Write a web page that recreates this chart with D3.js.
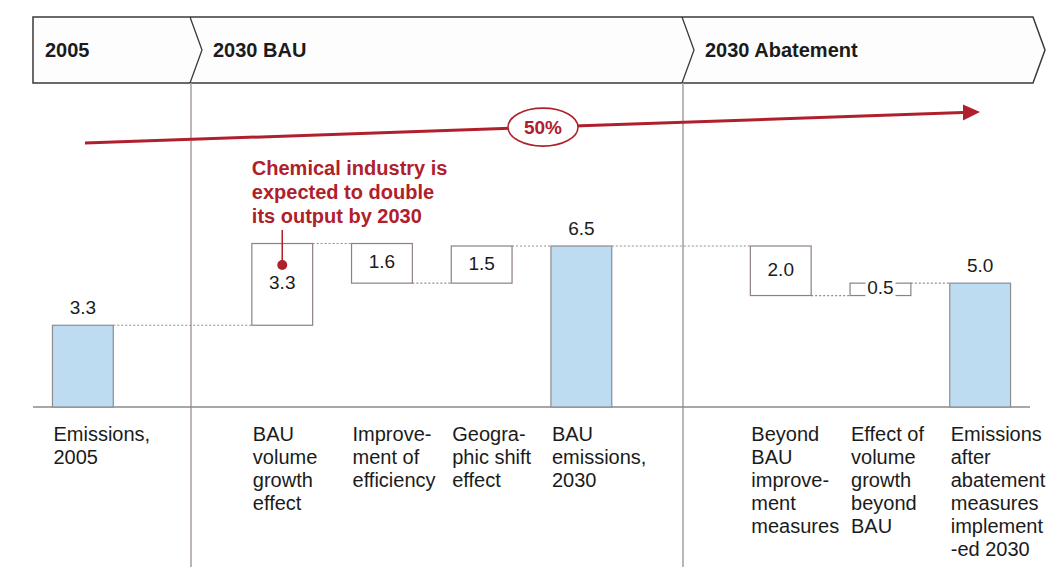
<!DOCTYPE html>
<html>
<head>
<meta charset="utf-8">
<script src="https://cdn.jsdelivr.net/npm/d3@7"></script>
<style>
  html, body { margin: 0; padding: 0; background: #ffffff; }
  svg { display: block; font-family: "Liberation Sans", Arial, Helvetica, sans-serif; }
</style>
</head>
<body>
<svg id="chart" width="1049" height="567"></svg>
<script>
// ---------------- DATA ----------------
const stepKeys = ["e2005", "gap1", "volume", "efficiency", "geo", "bau2030", "gap2", "beyond", "volBeyond", "e2030"];
const stepTypes = ["total", "gap", "delta", "delta", "delta", "total", "gap", "delta", "delta", "total"];
const stepValues = [3.3, null, 3.3, -1.6, 1.5, 6.5, null, -2.0, 0.5, 5.0];
const valueLabels = ["3.3", "", "3.3", "1.6", "1.5", "6.5", "", "2.0", "0.5", "5.0"];
const stepLabels = [
  ["Emissions,", "2005"],
  [],
  ["BAU", "volume", "growth", "effect"],
  ["Improve-", "ment of", "efficiency"],
  ["Geogra-", "phic shift", "effect"],
  ["BAU", "emissions,", "2030"],
  [],
  ["Beyond", "BAU", "improve-", "ment", "measures"],
  ["Effect of", "volume", "growth", "beyond", "BAU"],
  ["Emissions", "after", "abatement", "measures", "implement", "-ed 2030"]
];
const phaseLabels = ["2005", "2030 BAU", "2030 Abatement"];
const growthLabel = "50%";
const annotationLines = ["Chemical industry is", "expected to double", "its output by 2030"];
const annotatedStep = "volume";

// ---------------- LAYOUT ----------------
const W = 1049, H = 567;
const red = "#b0202c";
const ink = "#1b1b1b";
const svg = d3.select("#chart");

const x = d3.scaleBand().domain(stepKeys).range([33, 1030]).paddingInner(0.39).paddingOuter(0.195);
const y = d3.scaleLinear().domain([0, 6.5]).range([407, 246]);

// header chevron band
const hTop = 17, hBot = 83, hMid = (hTop + hBot) / 2;
const phaseEdges = [33, 190, 682, 1033]; // left edge and chevron positions (layout)
const tip = 12;
const header = svg.append("g");
// outline path
let p = `M${phaseEdges[0]},${hTop} L${phaseEdges[3]},${hTop} L${phaseEdges[3] + tip},${hMid} L${phaseEdges[3]},${hBot} L${phaseEdges[0]},${hBot} Z`;
header.append("path").attr("d", p).attr("fill", "#fdfdfd").attr("stroke", "#3a3a3a").attr("stroke-width", 1.5);
[phaseEdges[1], phaseEdges[2]].forEach(e => {
  header.append("path")
    .attr("d", `M${e},${hTop} L${e + tip},${hMid} L${e},${hBot}`)
    .attr("fill", "none").attr("stroke", "#3a3a3a").attr("stroke-width", 1.3);
});
phaseLabels.forEach((t, i) => {
  header.append("text")
    .attr("x", phaseEdges[i] + (i === 0 ? 12 : 23))
    .attr("y", hMid + 7)
    .attr("font-size", 20).attr("font-weight", "bold").attr("fill", ink)
    .text(t);
});

// vertical dividers
[phaseEdges[1] + 1, phaseEdges[2] + 1].forEach(e => {
  svg.append("line").attr("x1", e).attr("x2", e).attr("y1", hBot).attr("y2", H)
    .attr("stroke", "#a99c9c").attr("stroke-width", 1.5);
});

// baseline
svg.append("line").attr("x1", 33).attr("x2", 1030).attr("y1", y(0)).attr("y2", y(0))
  .attr("stroke", "#8a8a8a").attr("stroke-width", 1.3);

// compute waterfall geometry
let running = 0;
const steps = [];
stepKeys.forEach((k, i) => {
  const t = stepTypes[i];
  if (t === "gap") return;
  const v = stepValues[i];
  let start, end;
  if (t === "total") { start = 0; end = v; running = v; }
  else { start = running; end = running + v; running = end; }
  steps.push({ key: k, type: t, start, end, label: valueLabels[i], idx: i });
});

// connectors
for (let i = 0; i < steps.length - 1; i++) {
  const a = steps[i], b = steps[i + 1];
  const lvl = y(a.end);
  svg.append("line")
    .attr("x1", x(a.key) + x.bandwidth()).attr("x2", x(b.key))
    .attr("y1", lvl).attr("y2", lvl)
    .attr("stroke", "#8f8f8f").attr("stroke-width", 1.2).attr("stroke-dasharray", "2,2");
}

// bars and boxes
steps.forEach(s => {
  const top = y(Math.max(s.start, s.end)), bot = y(Math.min(s.start, s.end));
  svg.append("rect")
    .attr("x", x(s.key)).attr("y", top)
    .attr("width", x.bandwidth()).attr("height", bot - top)
    .attr("fill", s.type === "total" ? "#bddcf2" : "#ffffff")
    .attr("stroke", s.type === "total" ? "#8d8d8d" : "#8f8080")
    .attr("stroke-width", 1.2);
});

// value labels
steps.forEach(s => {
  const cx = x(s.key) + x.bandwidth() / 2;
  if (s.type === "total") {
    svg.append("text").attr("x", cx).attr("y", y(s.end) - 11)
      .attr("text-anchor", "middle").attr("font-size", 19).attr("fill", ink).text(s.label);
  } else {
    const top = y(Math.max(s.start, s.end)), bot = y(Math.min(s.start, s.end));
    const cy = (top + bot) / 2 - 2;
    const small = (bot - top) < 24;
    if (small) {
      svg.append("rect").attr("x", cx - 15).attr("y", cy - 10).attr("width", 30).attr("height", 21).attr("fill", "#ffffff");
    }
    svg.append("text").attr("x", cx).attr("y", cy + 7)
      .attr("text-anchor", "middle").attr("font-size", 19).attr("fill", ink).text(s.label);
  }
});

// category labels
stepKeys.forEach((k, i) => {
  const lines = stepLabels[i];
  if (!lines.length) return;
  const t = svg.append("text").attr("font-size", 20).attr("fill", ink);
  lines.forEach((ln, j) => {
    t.append("tspan").attr("x", x(k) + 1).attr("y", 441 + j * 23).text(ln);
  });
});

// growth arrow
const ax0 = 85, ay0 = 143, ax1 = 980, ay1 = 112;
const slope = (ay1 - ay0) / (ax1 - ax0);
const headLen = 17;
svg.append("line").attr("x1", ax0).attr("y1", ay0).attr("x2", ax1 - headLen).attr("y2", ay1 - slope * headLen)
  .attr("stroke", red).attr("stroke-width", 3);
const hx = ax1 - headLen, hy = ay1 - slope * headLen;
svg.append("path").attr("d", `M${ax1},${ay1} L${hx},${hy - 8} L${hx},${hy + 8} Z`).attr("fill", red);
const ex = 543, ey = ay0 + slope * (ex - ax0);
svg.append("ellipse").attr("cx", ex).attr("cy", ey).attr("rx", 35).attr("ry", 19)
  .attr("fill", "#ffffff").attr("stroke", red).attr("stroke-width", 1.6);
svg.append("text").attr("x", ex).attr("y", ey + 7).attr("text-anchor", "middle")
  .attr("font-size", 19).attr("font-weight", "bold").attr("fill", red).text(growthLabel);

// annotation
const ann = svg.append("text").attr("font-size", 20).attr("font-weight", "bold").attr("fill", red);
annotationLines.forEach((ln, j) => {
  ann.append("tspan").attr("x", x(annotatedStep)).attr("y", 175 + j * 24).text(ln);
});
const dotX = x(annotatedStep) + x.bandwidth() / 2;
svg.append("line").attr("x1", dotX).attr("x2", dotX).attr("y1", 230).attr("y2", 265)
  .attr("stroke", red).attr("stroke-width", 1.5);
svg.append("circle").attr("cx", dotX).attr("cy", 265).attr("r", 5).attr("fill", red);
</script>
</body>
</html>
